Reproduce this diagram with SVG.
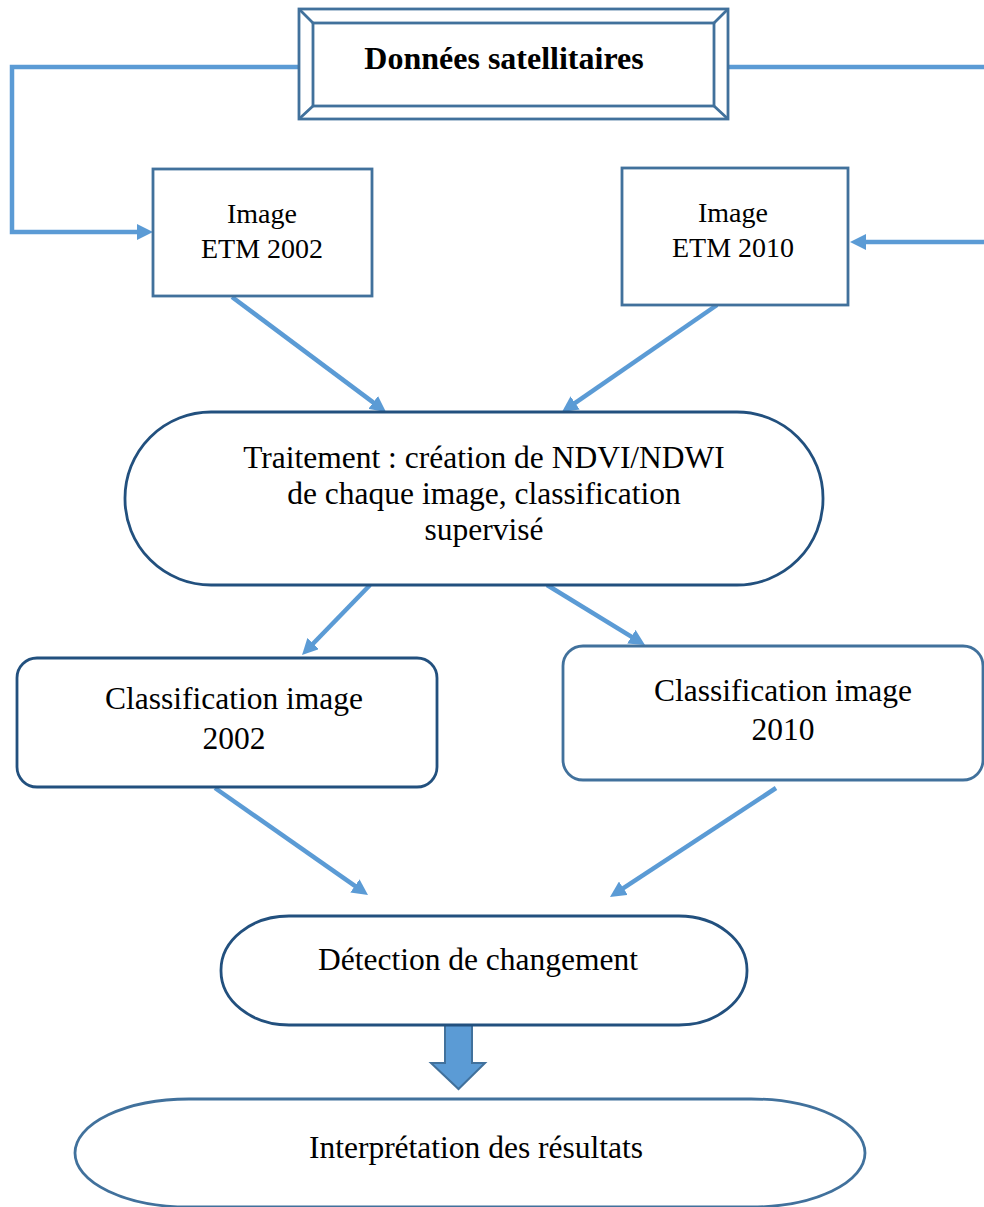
<svg xmlns="http://www.w3.org/2000/svg" width="984" height="1207" viewBox="0 0 984 1207">
<style>
  .t { font-family: "Liberation Serif", "Times New Roman", serif; fill: #000; text-anchor: middle; }
  .t28 { font-size: 28px; }
  .t31 { font-size: 31.5px; }
  .tb { font-size: 32px; font-weight: bold; }
  .box { fill: #fff; stroke: #41719C; stroke-width: 2.8; }
  .dark { fill: #fff; stroke: #22507E; stroke-width: 2.8; }
  .bev { fill: none; stroke: #41719C; stroke-width: 2.8; }
  .conn { fill: none; stroke: #5B9BD5; stroke-width: 4.5; }
</style>
<defs>
  <marker id="ah" markerUnits="userSpaceOnUse" markerWidth="16" markerHeight="16" viewBox="0 0 16 16" refX="10" refY="8" orient="auto">
    <path d="M0,0 L16,8 L0,16 z" fill="#5B9BD5"/>
  </marker>
</defs>
<rect width="984" height="1207" fill="#fff"/>

<g id="connectors">
  <path class="conn" d="M299,67 H12 V232 H147" marker-end="url(#ah)"/>
  <path class="conn" d="M729,67 H995 V242 H856" marker-end="url(#ah)"/>
  <line class="conn" x1="232" y1="297" x2="381.2" y2="408.4" marker-end="url(#ah)"/>
  <line class="conn" x1="717" y1="305" x2="566.9" y2="408.6" marker-end="url(#ah)"/>
  <line class="conn" x1="370" y1="585" x2="306.2" y2="650.7" marker-end="url(#ah)"/>
  <line class="conn" x1="547" y1="585" x2="639.9" y2="641.9" marker-end="url(#ah)"/>
  <line class="conn" x1="215" y1="788" x2="363.1" y2="891.6" marker-end="url(#ah)"/>
  <line class="conn" x1="776" y1="788" x2="615" y2="893.7" marker-end="url(#ah)"/>
  <path d="M445,1025 H472 V1063 H485 L458.5,1089 L431,1063 H445 Z" fill="#5B9BD5" stroke="#41719C" stroke-width="2"/>
</g>

<g id="donnees">
  <rect class="box" x="299" y="9" width="429" height="110"/>
  <rect class="bev" x="313" y="23" width="401" height="83"/>
  <path class="bev" d="M299,9 L313,23 M728,9 L714,23 M299,119 L313,106 M728,119 L714,106"/>
  <text class="t tb" x="504" y="69">Données satellitaires</text>
</g>

<g id="image2002">
  <rect class="box" x="153" y="169" width="219" height="127"/>
  <text class="t t28" x="262" y="223">Image</text>
  <text class="t t28" x="262" y="258">ETM 2002</text>
</g>

<g id="image2010">
  <rect class="box" x="622" y="168" width="226" height="137"/>
  <text class="t t28" x="733" y="222">Image</text>
  <text class="t t28" x="733" y="257">ETM 2010</text>
</g>

<g id="traitement">
  <rect class="dark" x="125" y="412" width="698" height="173" rx="86" ry="86"/>
  <text class="t t31" x="484" y="468">Traitement : création de NDVI/NDWI</text>
  <text class="t t31" x="484" y="504">de chaque image, classification</text>
  <text class="t t31" x="484" y="540">supervisé</text>
</g>

<g id="classif2002">
  <rect class="dark" x="17" y="658" width="420" height="129" rx="20" ry="20"/>
  <text class="t t31" x="234" y="709">Classification image</text>
  <text class="t t31" x="234" y="749">2002</text>
</g>

<g id="classif2010">
  <rect class="box" x="563" y="646" width="420" height="134" rx="20" ry="20"/>
  <text class="t t31" x="783" y="701">Classification image</text>
  <text class="t t31" x="783" y="740">2010</text>
</g>

<g id="detection">
  <rect class="dark" x="221" y="916" width="526" height="109" rx="68" ry="54"/>
  <text class="t t31" x="478" y="970">Détection de changement</text>
</g>

<g id="interpretation">
  <rect class="box" x="75" y="1099" width="790" height="108" rx="114" ry="54"/>
  <text class="t t31" x="476" y="1158">Interprétation des résultats</text>
</g>
</svg>
